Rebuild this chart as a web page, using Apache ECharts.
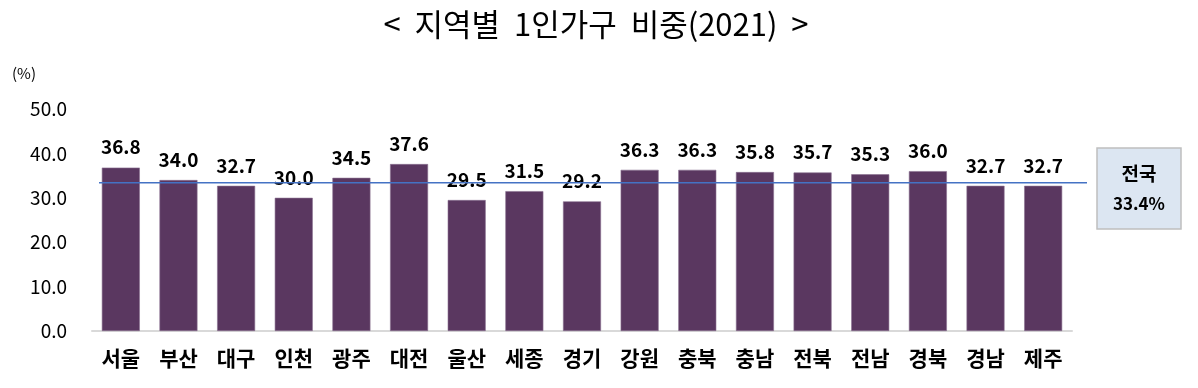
<!DOCTYPE html>
<html><head><meta charset="utf-8">
<script src="https://cdn.jsdelivr.net/npm/echarts@6/dist/echarts.min.js"></script>
<style>html,body{margin:0;padding:0;background:#fff}#c{width:1198px;height:388px}</style>
</head><body><div id="c"></div>
<script>
const title = '<  지역별  1인가구  비중(2021)  >';
const categories = ['서울','부산','대구','인천','광주','대전','울산','세종','경기','강원','충북','충남','전북','전남','경북','경남','제주'];
const values = [36.8,34.0,32.7,30.0,34.5,37.6,29.5,31.5,29.2,36.3,36.3,35.8,35.7,35.3,36.0,32.7,32.7];
const nationalLabel = '전국';
const nationalValue = 33.4;
const yTicks = [0,10,20,30,40,50];

const chart = echarts.init(document.getElementById('c'), null, {renderer:'canvas'});
const font = '"Noto Sans CJK KR", sans-serif';
chart.setOption({
  animation:false,
  backgroundColor:'#fff',
  title:{text:title,left:591,textAlign:'center',top:4,textStyle:{fontFamily:font,fontSize:31,fontWeight:'normal',color:'#000'}},
  grid:[
    {left:92,right:126,top:109,bottom:57},
    {left:99,right:111,top:109,bottom:57}
  ],
  xAxis:[
    {type:'category',gridIndex:0,data:categories,axisTick:{show:false},
     axisLine:{lineStyle:{color:'#d9d9d9',width:2}},
     axisLabel:{fontFamily:font,fontSize:21,fontWeight:'bold',color:'#000',margin:17}},
    {type:'value',gridIndex:1,min:0,max:1,show:false}
  ],
  yAxis:[
    {type:'value',gridIndex:0,min:yTicks[0],max:yTicks[yTicks.length-1],interval:10,
     name:'(%)',nameLocation:'end',nameGap:28,
     nameTextStyle:{fontFamily:font,fontSize:15,color:'#000',align:'left',padding:[0,0,0,-80]},
     splitLine:{show:false},axisLine:{show:false},axisTick:{show:false},
     axisLabel:{fontFamily:font,fontSize:19,color:'#000',margin:25,formatter:v=>v.toFixed(1)}},
    {type:'value',gridIndex:1,min:yTicks[0],max:yTicks[yTicks.length-1],show:false}
  ],
  series:[
    {type:'bar',xAxisIndex:0,yAxisIndex:0,data:values,barWidth:38,
     itemStyle:{color:'#5a3760',borderColor:'#8a7090',borderWidth:0.6},
     label:{show:true,position:'top',distance:11,fontFamily:font,fontSize:19,fontWeight:'bold',color:'#000',formatter:p=>p.value.toFixed(1)},
     z:2},
    {type:'line',xAxisIndex:1,yAxisIndex:1,data:[[0,nationalValue],[1,nationalValue]],
     symbol:'none',lineStyle:{color:'#4472c4',width:1.6},z:3}
  ],
  graphic:[
    {type:'rect',x:1097,y:148,shape:{width:84,height:81},
     style:{fill:'#dce6f2',stroke:'#bfbfbf',lineWidth:1.5},z:10},
    {type:'text',x:1139,y:174,style:{text:nationalLabel,fontFamily:font,fontSize:19,fontWeight:'bold',fill:'#000',align:'center',verticalAlign:'middle'},z:11},
    {type:'text',x:1139,y:204,style:{text:nationalValue.toFixed(1)+'%',fontFamily:font,fontSize:17,fontWeight:'bold',fill:'#000',align:'center',verticalAlign:'middle'},z:11}
  ]
});
</script></body></html>
